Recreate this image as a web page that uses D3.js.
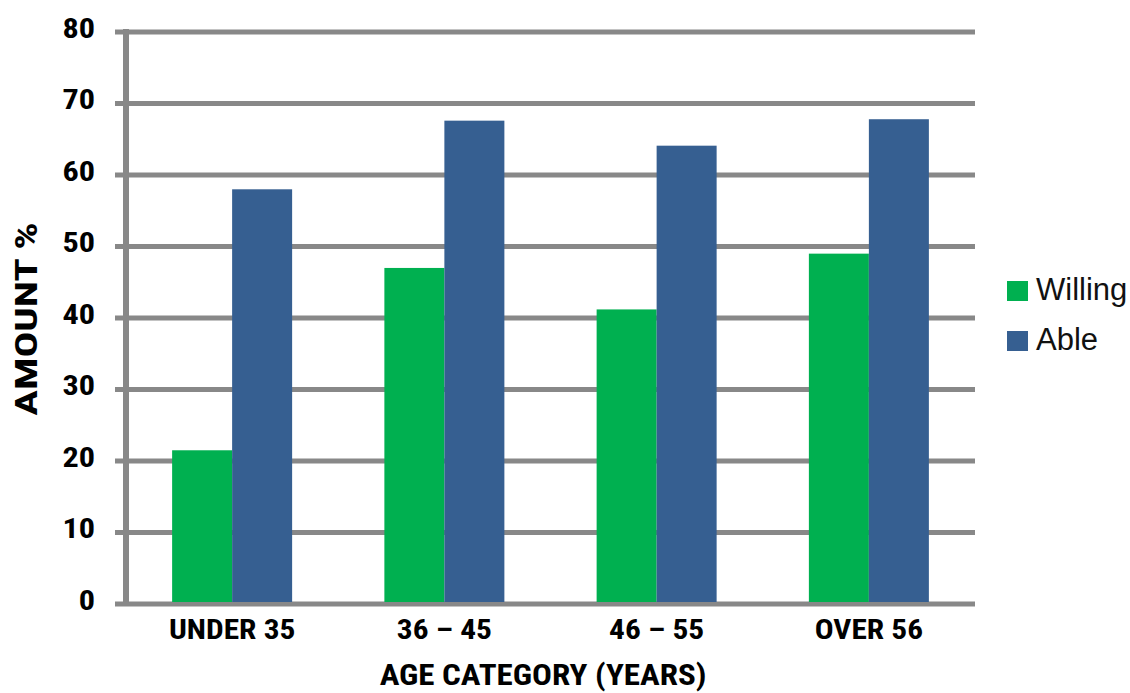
<!DOCTYPE html>
<html>
<head>
<meta charset="utf-8">
<script src="https://cdn.jsdelivr.net/npm/d3@7"></script>
<style>
  html, body { margin: 0; padding: 0; background: #fff; }
  svg { display: block; }
  .narrow { font-family: "Liberation Sans Narrow", "Arial Narrow", "Roboto Condensed", "Liberation Sans", Arial, sans-serif; font-weight: bold; fill: #000; }
  .legend text { font-family: "Liberation Sans", Arial, sans-serif; }
</style>
</head>
<body>
<svg id="chart" width="1130" height="693"></svg>
<script>
// Age groups and survey percentages
const categories = ["UNDER 35", "36 \u2013 45", "46 \u2013 55", "OVER 56"];
const seriesNames = ["Willing", "Able"];
const willing = [21.5, 47.0, 41.2, 49.0];
const able = [58.0, 67.6, 64.1, 67.8];
const yTicks = [0, 10, 20, 30, 40, 50, 60, 70, 80];
const colors = ["#00B050", "#365F91"];

const series = [willing, able];
const svg = d3.select("#chart");

const margin = { left: 126, right: 975, top: 32, bottom: 604 };

const x = d3.scaleBand()
  .domain(categories)
  .range([margin.left, margin.right])
  .paddingInner(0)
  .paddingOuter(0);

const barW = 60;
const xSub = d3.scaleBand()
  .domain(seriesNames)
  .range([0, barW * 2]);

const y = d3.scaleLinear()
  .domain([0, 80])
  .range([margin.bottom, margin.top]);

// Horizontal gridlines (extending slightly left of the axis as tick marks)
svg.append("g")
  .selectAll("line")
  .data(yTicks)
  .join("line")
  .attr("x1", 115)
  .attr("x2", margin.right)
  .attr("y1", d => y(d))
  .attr("y2", d => y(d))
  .attr("stroke", "#888888")
  .attr("stroke-width", 5);

// Vertical axis line
svg.append("line")
  .attr("x1", margin.left)
  .attr("x2", margin.left)
  .attr("y1", y(80) - 3)
  .attr("y2", y(0) + 2)
  .attr("stroke", "#888888")
  .attr("stroke-width", 6);

// Bars
const groups = svg.append("g")
  .selectAll("g")
  .data(categories)
  .join("g")
  .attr("transform", d => `translate(${x(d) + (x.bandwidth() - barW * 2) / 2},0)`);

groups.selectAll("rect")
  .data((d, i) => seriesNames.map((s, j) => ({ s, v: series[j][i], j })))
  .join("rect")
  .attr("x", d => xSub(d.s))
  .attr("width", xSub.bandwidth())
  .attr("y", d => y(d.v))
  .attr("height", d => y(0) - y(d.v) - 2)
  .attr("fill", d => colors[d.j]);

// Y tick labels (condensed bold, widened slightly)
svg.append("g")
  .selectAll("text")
  .data(yTicks)
  .join("text")
  .attr("class", "narrow")
  .attr("transform", d => `translate(95,${y(d)}) scale(1.15,1)`)
  .attr("dy", "0.2em")
  .attr("text-anchor", "end")
  .attr("font-size", 28)
  .text(d => d);

// X category labels
svg.append("g")
  .selectAll("text")
  .data(categories)
  .join("text")
  .attr("class", "narrow")
  .attr("transform", d => `translate(${x(d) + x.bandwidth() / 2},639) scale(1.12,1)`)
  .attr("text-anchor", "middle")
  .attr("font-size", 28)
  .text(d => d);

// Axis titles
svg.append("text")
  .attr("class", "narrow")
  .attr("transform", "translate(543,685) scale(1.1,1)")
  .attr("text-anchor", "middle")
  .attr("font-size", 30)
  .text("AGE CATEGORY (YEARS)");

svg.append("text")
  .attr("class", "narrow")
  .attr("transform", "translate(37,319) rotate(-90) scale(1.34,1)")
  .attr("text-anchor", "middle")
  .attr("font-size", 32)
  .text("AMOUNT %");

// Legend
const legend = svg.append("g").attr("class", "legend");
const legendItems = legend.selectAll("g")
  .data(seriesNames)
  .join("g")
  .attr("transform", (d, i) => `translate(1007,${281 + i * 50})`);

legendItems.append("rect")
  .attr("width", 21)
  .attr("height", 20)
  .attr("fill", (d, i) => colors[i]);

legendItems.append("text")
  .attr("x", 29)
  .attr("y", 19)
  .attr("font-size", 31)
  .attr("fill", "#111")
  .text(d => d);
</script>
</body>
</html>
